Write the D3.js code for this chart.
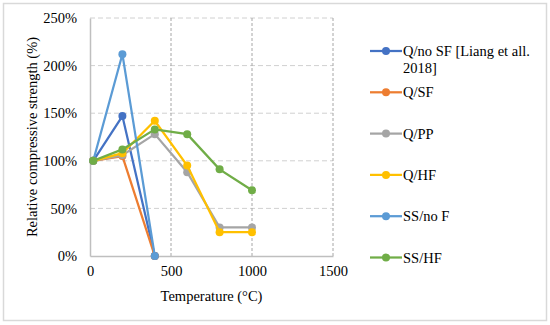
<!DOCTYPE html>
<html>
<head>
<meta charset="utf-8">
<script src="https://cdn.jsdelivr.net/npm/d3@7"></script>
<style>
  body { margin: 0; background: #fff; }
</style>
</head>
<body>
<svg id="chart"></svg>
<script>
// data
var temps = [20, 200, 400, 600, 800, 1000];
var seriesNames = ["Q/no SF [Liang et all. 2018]", "Q/SF", "Q/PP", "Q/HF", "SS/no F", "SS/HF"];
var seriesColors = ["#4472C4", "#ED7D31", "#A5A5A5", "#FFC000", "#5B9BD5", "#70AD47"];
var qNoSF = [100, 147, 0];
var qSF = [100, 105, 0];
var qPP = [100, 106, 128, 88, 30, 30];
var qHF = [100, 108, 142, 95, 25, 25];
var ssNoF = [100, 212, 0];
var ssHF = [100, 112, 133, 128, 91, 69];
var xTicks = [0, 500, 1000, 1500];
var yTicks = [0, 50, 100, 150, 200, 250];

var allSeries = [qNoSF, qSF, qPP, qHF, ssNoF, ssHF];

var dimensions = {
    width: 550,
    height: 325,
    margin: { top: 18, left: 90, right: 217, bottom: 69 }
};

var svg = d3.select("#chart")
    .attr("width", dimensions.width)
    .attr("height", dimensions.height);

// outer frame
svg.append("rect")
    .attr("x", 3.5).attr("y", 3.5)
    .attr("width", 543).attr("height", 317)
    .attr("fill", "white")
    .attr("stroke", "#d9d9d9")
    .attr("stroke-width", 1.5);

var x = d3.scaleLinear()
    .domain([0, 1500])
    .range([dimensions.margin.left, dimensions.width - dimensions.margin.right]);

var y = d3.scaleLinear()
    .domain([0, 250])
    .range([dimensions.height - dimensions.margin.bottom, dimensions.margin.top]);

// horizontal grid
svg.append("g")
    .selectAll("line")
    .data(yTicks.filter(d => d > 0))
    .enter()
    .append("line")
    .attr("x1", x(0)).attr("x2", x(1500))
    .attr("y1", d => y(d)).attr("y2", d => y(d))
    .attr("stroke", "#d0d0d0")
    .attr("stroke-width", 1)
    .attr("stroke-dasharray", "5,3");

// vertical grid
svg.append("g")
    .selectAll("line")
    .data(xTicks.filter(d => d > 0))
    .enter()
    .append("line")
    .attr("x1", d => x(d)).attr("x2", d => x(d))
    .attr("y1", y(0)).attr("y2", y(250))
    .attr("stroke", "#a6a6a6")
    .attr("stroke-width", 1)
    .attr("stroke-dasharray", "3,2");

// axes
var xAxis = svg.append("g")
    .attr("transform", `translate(0, ${y(0)})`)
    .call(d3.axisBottom(x).tickValues(xTicks).tickSize(0).tickPadding(10).tickFormat(d3.format("d")));
xAxis.select(".domain").attr("stroke", "#bfbfbf").attr("stroke-width", 1.5);
xAxis.selectAll("text").attr("fill", "#000");

var yAxis = svg.append("g")
    .attr("transform", `translate(${x(0)}, 0)`)
    .call(d3.axisLeft(y).tickValues(yTicks).tickSize(0).tickPadding(13).tickFormat(d => d + "%"));
yAxis.select(".domain").attr("stroke", "#bfbfbf").attr("stroke-width", 1.5);
yAxis.selectAll("text").attr("fill", "#000");

// axis titles
svg.append("text")
    .attr("x", (x(0) + x(1500)) / 2)
    .attr("y", 301)
    .attr("text-anchor", "middle")
    .text("Temperature (°C)");

svg.append("text")
    .attr("transform", `translate(37, ${(y(0) + y(250)) / 2}) rotate(-90)`)
    .attr("text-anchor", "middle")
    .text("Relative compressive strength (%)");

// lines
var line = d3.line()
    .x((d, i) => x(temps[i]))
    .y(d => y(d));

allSeries.forEach(function (values, k) {
    var g = svg.append("g");
    g.append("path")
        .datum(values)
        .attr("d", line)
        .attr("fill", "none")
        .attr("stroke", seriesColors[k])
        .attr("stroke-width", 2.25);
    g.selectAll("circle")
        .data(values)
        .enter()
        .append("circle")
        .attr("cx", (d, i) => x(temps[i]))
        .attr("cy", d => y(d))
        .attr("r", 4)
        .attr("fill", seriesColors[k]);
});

// legend
var legend = svg.append("g")
    .selectAll("g")
    .data(seriesNames)
    .enter()
    .append("g")
    .attr("transform", (d, i) => `translate(370, ${51 + i * 41.3})`);

legend.append("line")
    .attr("x1", 0).attr("x2", 32)
    .attr("y1", 0).attr("y2", 0)
    .attr("stroke", (d, i) => seriesColors[i])
    .attr("stroke-width", 2.25);

legend.append("circle")
    .attr("cx", 16).attr("cy", 0).attr("r", 4)
    .attr("fill", (d, i) => seriesColors[i]);

legend.append("text")
    .attr("x", 33)
    .attr("y", 0)
    .attr("dy", "0.35em")
    .each(function (d) {
        var t = d3.select(this);
        if (d.indexOf("[") > 0) {
            t.append("tspan").attr("x", 33).text("Q/no SF [Liang et all.");
            t.append("tspan").attr("x", 33).attr("dy", "17px").text("2018]");
        } else {
            t.text(d);
        }
    });

// all text in Times-like serif
svg.selectAll("text")
    .style("font-family", "Liberation Serif")
    .style("font-size", "14.5px");
</script>
</body>
</html>
